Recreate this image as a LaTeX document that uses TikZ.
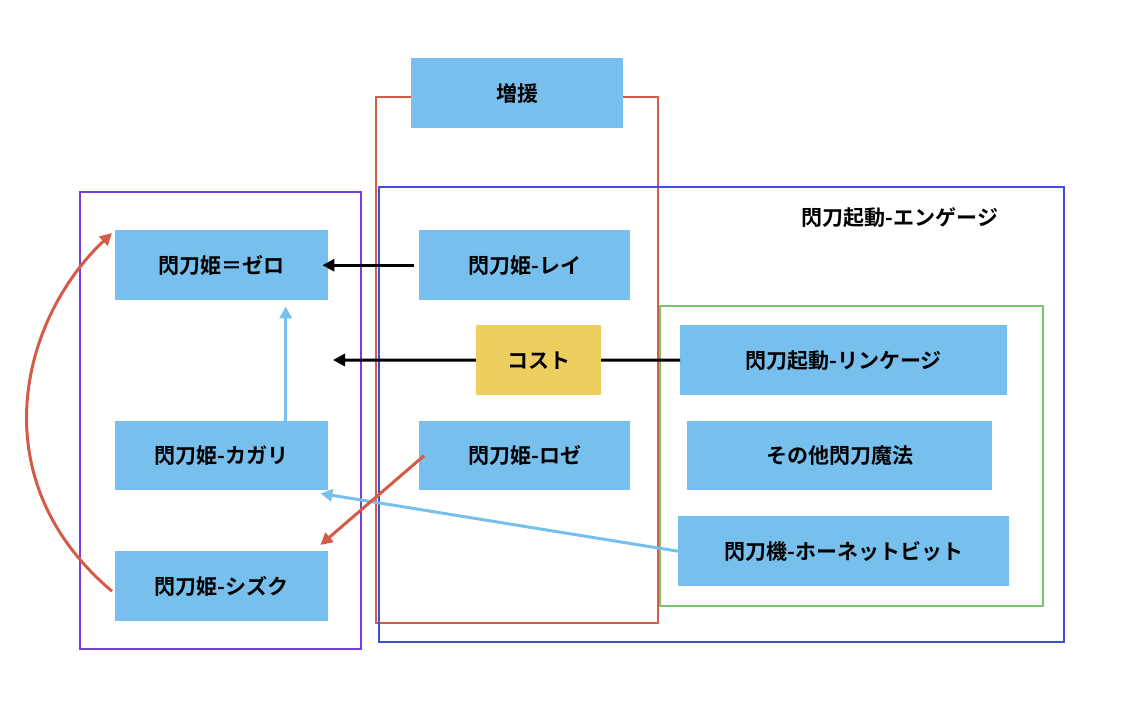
\documentclass[tikz,border=0pt]{standalone}
\usepackage{fontspec}
\setmainfont{Noto Sans CJK JP}[BoldFont={* Bold}]
\usetikzlibrary{arrows.meta}
\definecolor{nb}{HTML}{77BFEC}
\definecolor{ny}{HTML}{ECCF5E}
\definecolor{rr}{HTML}{D35B48}
\definecolor{bb}{HTML}{3C4FD6}
\definecolor{pp}{HTML}{7A3ED8}
\definecolor{gg}{HTML}{7DC26E}
\begin{document}
\begin{tikzpicture}[x=1pt,y=-1pt,
 box/.style={fill=nb,draw=none,anchor=north west,inner sep=0pt,font=\fontsize{21}{24}\selectfont\bfseries},
 frame/.style={line width=1.8pt},
 arr/.style={line width=3pt,-{Triangle[length=12pt,width=12pt]}}]
\useasboundingbox (0,0) rectangle (1125,728);
\draw[frame,rr] (376,97) rectangle (658,623);
\draw[frame,bb] (379,187) rectangle (1064,642);
\draw[frame,pp] (80,192) rectangle (361,649);
\draw[frame,gg] (660,306) rectangle (1043,606);
\node[font=\fontsize{21}{24}\selectfont\bfseries] (eng) at (900,218) {閃刀起動-エンゲージ};
\node[box,minimum width=212pt,minimum height=70pt] (zo) at (411,58) {増援};
\node[box,minimum width=213pt,minimum height=70pt] (zero) at (115,230) {閃刀姫＝ゼロ};
\node[box,minimum width=211pt,minimum height=70pt] (rei) at (419,230) {閃刀姫-レイ};
\node[box,minimum width=327pt,minimum height=70pt] (link) at (680,325) {閃刀起動-リンケージ};
\coordinate (lt) at (333,360);
\draw[arr] (link.west) -- (lt);
\node[box,fill=ny,minimum width=125pt,minimum height=70pt] (cost) at (476,325) {コスト};
\node[box,minimum width=213pt,minimum height=69pt] (kag) at (115,421) {閃刀姫-カガリ};
\node[box,minimum width=211pt,minimum height=69pt] (rose) at (419,421) {閃刀姫-ロゼ};
\node[box,minimum width=305pt,minimum height=69pt] (oth) at (687,421) {その他閃刀魔法};
\node[box,minimum width=331pt,minimum height=70pt] (hor) at (678,516) {閃刀機-ホーネットビット};
\node[box,minimum width=213pt,minimum height=70pt] (shi) at (115,551) {閃刀姫-シズク};
\draw[arr] (rei.west) ++(-5,0) -- ([xshift=-6pt]zero.east);
\draw[arr,nb] ([xshift=64pt,yshift=-4pt]kag.north) -- ([xshift=64pt,yshift=-6pt]zero.south);
\draw[arr,nb] (hor.west) -- ([xshift=-8pt,yshift=-3pt]kag.south east);
\draw[arr,rr] ([xshift=5pt]rose.west) -- ([xshift=-8pt,yshift=6pt]shi.north east);
\draw[arr,rr] ([xshift=-3pt,yshift=-5pt]shi.west) .. controls (-20,480) and (20,320) .. ([xshift=-3pt,yshift=-3pt]zero.south west|-zero.north west) ;
\end{tikzpicture}
\end{document}
